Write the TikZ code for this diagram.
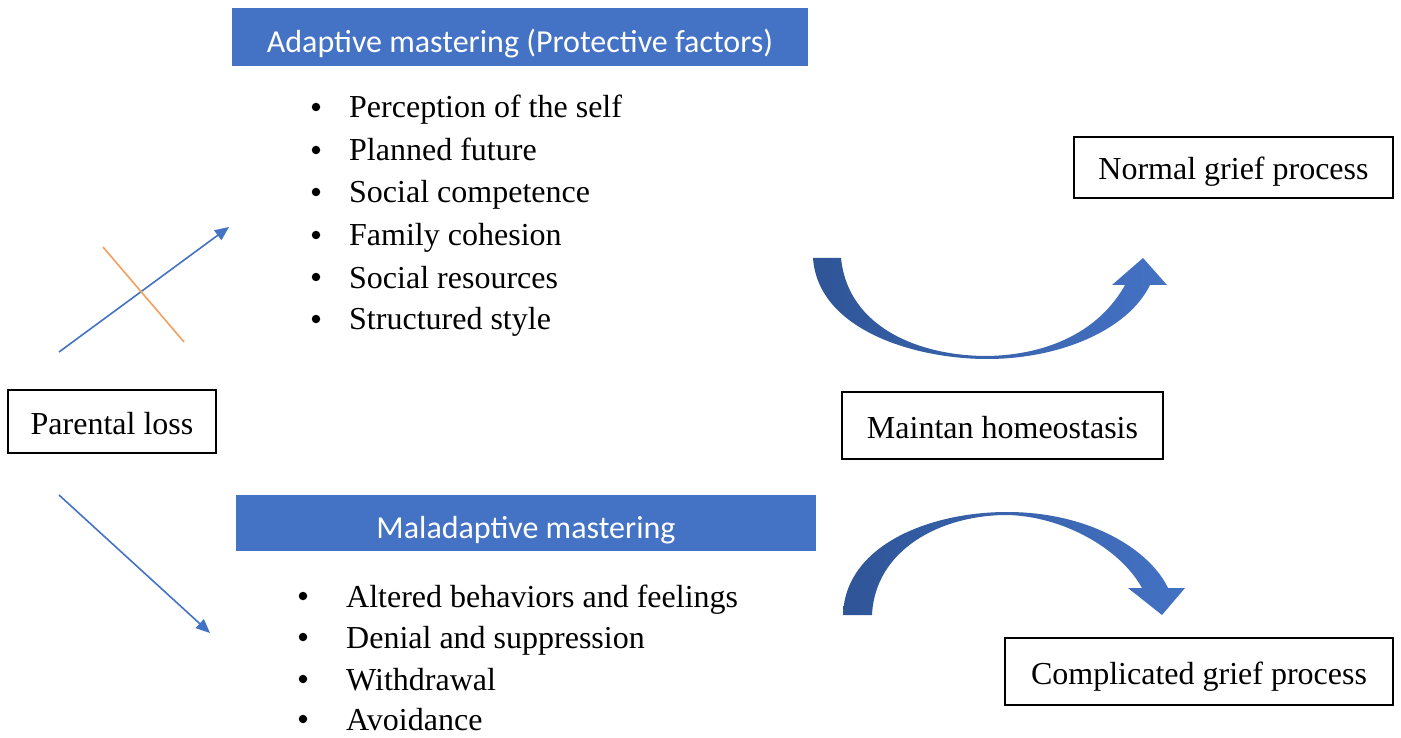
\documentclass[tikz,border=0pt]{standalone}
\usepackage{fontspec}
\setmainfont{Liberation Serif}
\newfontfamily\hdrfont{Carlito}
\usetikzlibrary{arrows.meta}
\definecolor{hblue}{HTML}{4472C4}
\definecolor{dblue}{HTML}{2F5597}
\definecolor{lorange}{HTML}{F2A060}
\tikzset{
  box/.style={draw=black, line width=1.3pt, fill=white, inner sep=0pt,
    font=\fontsize{32}{38}\selectfont, text height=25pt, text depth=0pt},
  hdr/.style={fill=hblue, inner sep=0pt, text=white,
    font=\hdrfont\fontsize{32}{38}\selectfont, text height=31pt, text depth=0pt},
  item/.style={anchor=base west, inner sep=0pt, font=\fontsize{32}{38}\selectfont},
  bul/.style={circle, fill=black, inner sep=0pt, minimum size=8.5pt},
  conn/.style={draw=hblue, line width=1.6pt, -{Triangle[length=14pt,width=12pt]}},
  bigarrow/.style={left color=dblue, right color=hblue, draw=none},
}
\begin{document}
\begin{tikzpicture}[x=1pt,y=-1pt]
\useasboundingbox (0,0) rectangle (1401,738);
\fill[white] (0,0) rectangle (1401,738);

% headers
\node[hdr, minimum width=576pt, minimum height=58pt] (h1) at (520,37) {Adaptive mastering (Protective factors)};
\node[hdr, minimum width=580pt, minimum height=56pt] (h2) at (526,523) {Maladaptive mastering};

% boxes
\node[box, minimum width=208pt, minimum height=63pt] (pl) at (112,421.5) {Parental loss};
\node[box, minimum width=319pt, minimum height=61pt] (ng) at (1233.5,167.5) {Normal grief process};
\node[box, minimum width=321pt, minimum height=67pt] (mh) at (1002.5,425.5) {Maintan homeostasis};
\node[box, minimum width=388pt, minimum height=67pt] (cg) at (1199,671.5) {Complicated grief process};

% list 1
\foreach \t/\y [count=\i] in {Perception of the self/118, Planned future/161, Social competence/203, Family cohesion/246, Social resources/288, Structured style/330}{
  \node[bul] (b1\i) at (316,\y-11) {};
  \node[item] (t1\i) at (349,\y) {\t};
}
% list 2
\foreach \t/\y [count=\i] in {Altered behaviors and feelings/607, Denial and suppression/648, Withdrawal/690, Avoidance/730}{
  \node[bul] (b2\i) at (303,\y-11) {};
  \node[item] (t2\i) at (346,\y) {\t};
}

% straight connectors
\coordinate (u0) at (59,352);
\coordinate (u1) at (229,227);
\coordinate (d0) at (59,495);
\coordinate (d1) at (210,633);
\coordinate (o0) at (103,247);
\coordinate (o1) at (184,342);
\draw[conn] (u0) -- (u1);
\draw[conn] (d0) -- (d1);
\draw[lorange, line width=1.6pt] (o0) -- (o1);

% curved arrow (upper)
\path[bigarrow] (813,258) .. controls (818,330) and (915,359) .. (987,359)
  .. controls (1060,359) and (1128,330) .. (1150,285)
  -- (1167,285) -- (1143,258) -- (1112,285) -- (1125,285)
  .. controls (1100,330) and (1050,355) .. (987,356)
  .. controls (920,356) and (848,328) .. (841,258) -- cycle;

% curved arrow (lower)
\path[bigarrow] (843,615) .. controls (845,545) and (930,512) .. (1007,512)
  .. controls (1090,512) and (1150,550) .. (1168,588)
  -- (1185,588) -- (1162,615) -- (1128,588) -- (1142,588)
  .. controls (1120,548) and (1062,516) .. (1007,515)
  .. controls (940,515) and (875,550) .. (872,615) -- cycle;
\end{tikzpicture}
\end{document}
